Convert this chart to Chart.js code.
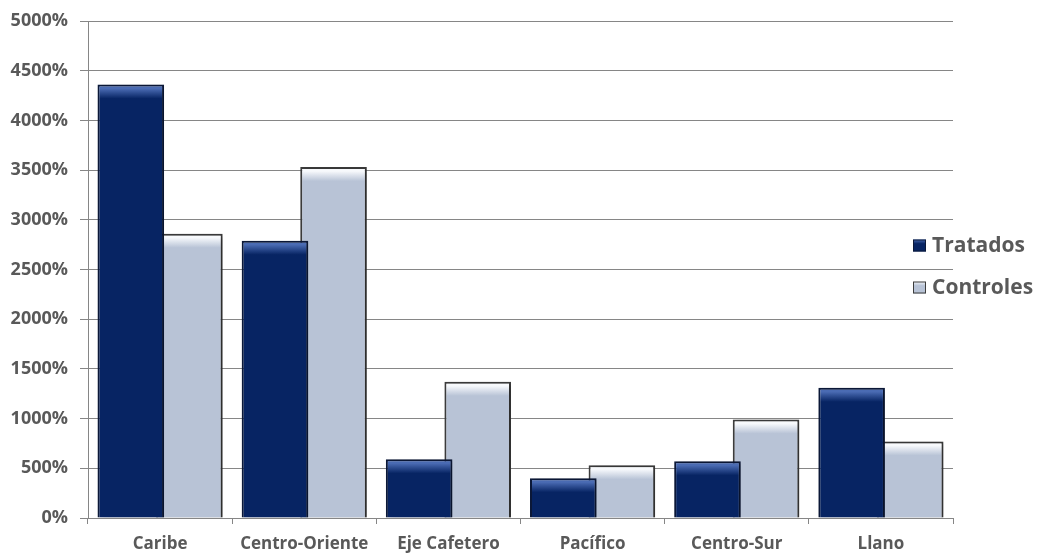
<!DOCTYPE html>
<html>
<head>
<meta charset="utf-8">
<script src="https://cdn.jsdelivr.net/npm/chart.js@4/dist/chart.umd.min.js"></script>
<style>
    body { margin: 0; background: #ffffff; }
    #wrap { width: 1042px; height: 554px; }
</style>
</head>
<body>
<div id="wrap"><canvas id="regiones-chart" width="1042" height="554"></canvas></div>
<script>
// categories and values
const categories = ['Caribe', 'Centro-Oriente', 'Eje Cafetero', 'Pacífico', 'Centro-Sur', 'Llano'];
const tratados = [4360, 2790, 590, 400, 570, 1310];
const controles = [2860, 3530, 1370, 530, 990, 770];
const seriesNames = ['Tratados', 'Controles'];
const yTicks = [0, 500, 1000, 1500, 2000, 2500, 3000, 3500, 4000, 4500, 5000];

const textColor = '#595959';
const lineColor = '#868686';
const fontFamily = '"Open Sans", "Noto Sans", sans-serif';

// base colour, top highlight, border
const palette = {
    Tratados: {base: '#072463', light: '#4a6bb3', border: '#0b1838'},
    Controles: {base: '#b8c3d6', light: '#f7f9fc', border: '#3c3c3c'},
};

function barFill(name) {
    return function (ctx) {
        const chart = ctx.chart;
        const colors = palette[name];
        if (!chart.chartArea || !chart.scales.y || typeof ctx.raw !== 'number') {
            return colors.base;
        }
        const top = chart.scales.y.getPixelForValue(ctx.raw);
        const bottom = chart.scales.y.getPixelForValue(0);
        const h = Math.max(bottom - top, 1);
        const g = chart.ctx.createLinearGradient(0, top, 0, bottom);
        g.addColorStop(0, colors.light);
        g.addColorStop(Math.min(0.9, 4 / h), colors.light);
        g.addColorStop(Math.min(0.95, 14 / h), colors.base);
        g.addColorStop(1, colors.base);
        return g;
    };
}

// soft shadow behind the bars
const barShadow = {
    id: 'barShadow',
    beforeDatasetDraw(chart) {
        const c = chart.ctx;
        c.save();
        c.shadowColor = 'rgba(0,0,0,0.28)';
        c.shadowBlur = 5;
        c.shadowOffsetX = 3;
        c.shadowOffsetY = 1;
    },
    afterDatasetDraw(chart) {
        chart.ctx.restore();
    }
};

// legend sits over the right edge of the plot, like the original
const sideLegend = {
    id: 'sideLegend',
    afterDraw(chart) {
        const c = chart.ctx;
        const area = chart.chartArea;
        const mid = (area.top + area.bottom) / 2;
        const rows = [mid - 24, mid + 18];
        c.save();
        c.font = 'bold 21px ' + fontFamily;
        c.textBaseline = 'middle';
        c.textAlign = 'left';
        for (let i = 0; i < seriesNames.length; i++) {
            const name = seriesNames[i];
            const colors = palette[name];
            const x = area.right - 40;
            const y = rows[i];
            const g = c.createLinearGradient(0, y - 6, 0, y + 6);
            g.addColorStop(0, colors.light);
            g.addColorStop(0.35, colors.base);
            g.addColorStop(1, colors.base);
            c.fillStyle = g;
            c.fillRect(x, y - 6, 13, 12);
            c.strokeStyle = colors.border;
            c.lineWidth = 1;
            c.strokeRect(x + 0.5, y - 5.5, 12, 11);
            c.fillStyle = textColor;
            c.fillText(name, x + 19, y + 1);
        }
        c.restore();
    }
};

new Chart(document.querySelector('#regiones-chart'), {
    type: 'bar',
    data: {
        labels: categories,
        datasets: [
            {
                label: seriesNames[0],
                data: tratados,
                backgroundColor: barFill('Tratados'),
                borderColor: palette.Tratados.border,
                borderWidth: 2,
            },
            {
                label: seriesNames[1],
                data: controles,
                backgroundColor: barFill('Controles'),
                borderColor: palette.Controles.border,
                borderWidth: 2,
            },
        ]
    },
    options: {
        responsive: false,
        animation: false,
        categoryPercentage: 0.8125,
        barPercentage: 1.137,
        layout: {padding: {top: 19, right: 89, left: 0, bottom: 0}},
        plugins: {
            legend: {display: false},
            tooltip: {enabled: false},
        },
        scales: {
            x: {
                grid: {offset: true, drawOnChartArea: false, tickLength: 6, color: lineColor},
                border: {color: lineColor, width: 1},
                ticks: {color: textColor, padding: 10, font: {family: fontFamily, size: 17, weight: 'bold'}},
                afterFit(scale) {
                    scale.height = 36;
                }
            },
            y: {
                min: 0,
                max: 5000,
                afterBuildTicks(scale) {
                    scale.ticks = yTicks.map((v) => ({value: v}));
                },
                grid: {color: lineColor, tickLength: 8},
                border: {color: lineColor, width: 1},
                ticks: {
                    color: textColor,
                    padding: 12,
                    font: {family: fontFamily, size: 18, weight: 'bold', lineHeight: 1},
                    callback: function (value) {
                        return value + '%';
                    }
                },
                afterFit(scale) {
                    scale.width = 88;
                }
            }
        }
    },
    plugins: [barShadow, sideLegend]
});
</script>
</body>
</html>
